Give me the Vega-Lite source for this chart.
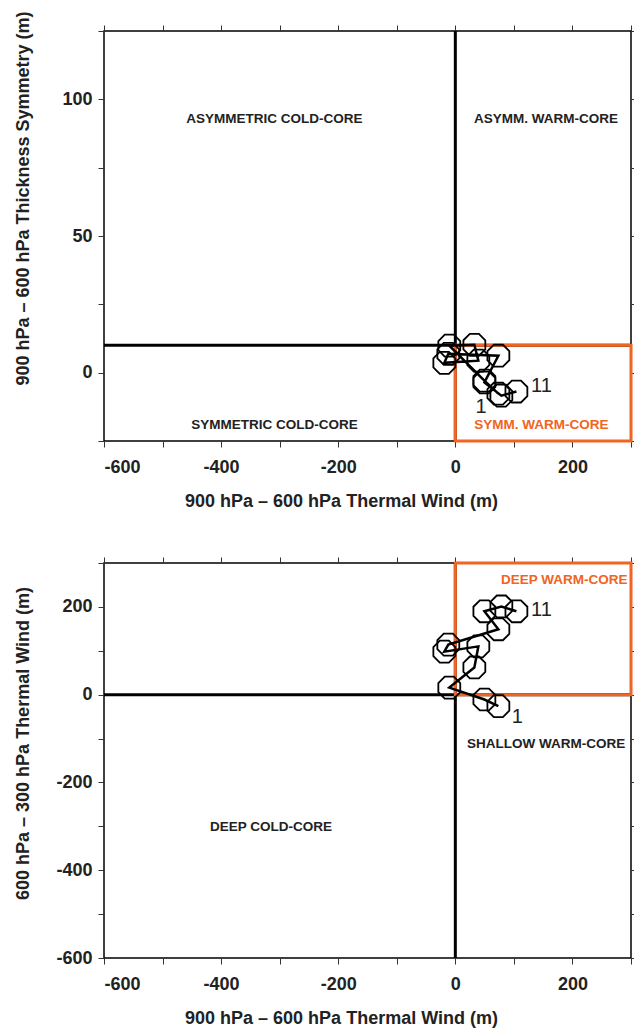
{
  "$schema": "https://vega.github.io/schema/vega-lite/v6.json",
  "padding": {"left": 13, "top": 10, "right": 0, "bottom": 3},
  "config": {
    "font": "Liberation Sans",
    "view": {"stroke": "#000", "strokeWidth": 1.5},
    "axis": {"domain": false, "grid": false, "tickColor": "#333", "tickSize": 6, "tickWidth": 1,
      "labelFont": "Liberation Sans", "labelFontWeight": "bold", "labelFontSize": 18, "labelColor": "#222",
      "titleFont": "Liberation Sans", "titleFontWeight": "bold", "titleFontSize": 18, "titleColor": "#222", "labelPadding": 6},
    "axisBottom": {"labelPadding": 11, "titlePadding": 16},
    "axisRight": {"tickSize": 3}
  },
  "datasets": {
    "track": [
      {"i": 1, "tw_lower": 73.5, "b": -7.7, "tw_upper": -26},
      {"i": 2, "tw_lower": 49.6, "b": -2.9, "tw_upper": -11},
      {"i": 3, "tw_lower": -10.3, "b": 9.9, "tw_upper": 16},
      {"i": 4, "tw_lower": 32.5, "b": 10.2, "tw_upper": 62},
      {"i": 5, "tw_lower": 39.3, "b": 4.4, "tw_upper": 110},
      {"i": 6, "tw_lower": -18.8, "b": 3.6, "tw_upper": 98},
      {"i": 7, "tw_lower": -12, "b": 6.9, "tw_upper": 114},
      {"i": 8, "tw_lower": 73.5, "b": 6.2, "tw_upper": 149},
      {"i": 9, "tw_lower": 49.6, "b": -3.6, "tw_upper": 190},
      {"i": 10, "tw_lower": 78.6, "b": -8.4, "tw_upper": 201},
      {"i": 11, "tw_lower": 104.3, "b": -6.9, "tw_upper": 190}
    ]
  },
  "spacing": 44,
  "vconcat": [
    {
      "width": 527, "height": 410,
      "resolve": {"axis": {"x": "independent", "y": "independent"}},
      "layer": [
        {
          "data": {"values": [{}]},
          "mark": {"type": "rule", "strokeWidth": 3, "color": "#000"},
          "encoding": {
            "x": {"datum": -600, "type": "quantitative", "scale": {"domain": [-600, 300], "nice": false, "zero": false},
              "axis": {"orient": "bottom", "values": [-600, -500, -400, -300, -200, -100, 0, 100, 200, 300],
                "labelExpr": "datum.value % 200 == 0 ? '' + datum.value : ''", "title": "900 hPa – 600 hPa Thermal Wind (m)",
                "titleX": 237}},
            "x2": {"datum": 300},
            "y": {"datum": 10, "type": "quantitative", "scale": {"domain": [-25, 125], "nice": false, "zero": false},
              "axis": {"orient": "left", "values": [-25, 0, 25, 50, 75, 100, 125],
                "labelExpr": "datum.value % 50 == 0 ? '' + datum.value : ''", "title": "900 hPa – 600 hPa Thickness Symmetry (m)",
                "titleX": -81, "titleY": 167, "titleBaseline": "middle", "titleAngle": 270}}
          }
        },
        {
          "data": {"values": [{}]},
          "mark": {"type": "rule", "strokeWidth": 3, "color": "#000"},
          "encoding": {
            "x": {"datum": 0, "type": "quantitative",
              "axis": {"orient": "top", "values": [-600, -500, -400, -300, -200, -100, 0, 100, 200, 300], "labels": false, "title": null}},
            "y": {"datum": -25, "type": "quantitative",
              "axis": {"orient": "right", "values": [-25, 0, 25, 50, 75, 100, 125], "labels": false, "title": null}},
            "y2": {"datum": 125}
          }
        },
        {
          "data": {"values": [{}]},
          "mark": {"type": "rect", "fillOpacity": 0, "stroke": "#f06424", "strokeWidth": 3},
          "encoding": {
            "x": {"datum": 0, "type": "quantitative", "axis": null},
            "x2": {"datum": 300},
            "y": {"datum": -25, "type": "quantitative", "axis": null},
            "y2": {"datum": 10}
          }
        },
        {
          "data": {"name": "track"},
          "mark": {"type": "line", "color": "#000", "strokeWidth": 2.5},
          "encoding": {
            "x": {"field": "tw_lower", "type": "quantitative", "axis": null},
            "y": {"field": "b", "type": "quantitative", "axis": null},
            "order": {"field": "i"}
          }
        },
        {
          "data": {"name": "track"},
          "mark": {"type": "point", "shape": "M -1 -0.414 L -0.414 -1 L 0.414 -1 L 1 -0.414 L 1 0.414 L 0.414 1 L -0.414 1 L -1 0.414 Z",
            "size": 480, "filled": false, "stroke": "#000", "strokeWidth": 1.8, "opacity": 1},
          "encoding": {
            "x": {"field": "tw_lower", "type": "quantitative", "axis": null},
            "y": {"field": "b", "type": "quantitative", "axis": null}
          }
        },
        {
          "data": {"values": [
            {"label": "ASYMMETRIC COLD-CORE", "x": -309, "y": 92.7},
            {"label": "ASYMM. WARM-CORE", "x": 155, "y": 92.7},
            {"label": "SYMMETRIC COLD-CORE", "x": -309, "y": -19.3}
          ]},
          "mark": {"type": "text", "font": "Liberation Sans", "fontWeight": "bold", "fontSize": 13.5, "color": "#222"},
          "encoding": {
            "x": {"field": "x", "type": "quantitative", "axis": null},
            "y": {"field": "y", "type": "quantitative", "axis": null},
            "text": {"field": "label"}
          }
        },
        {
          "data": {"values": [{"label": "SYMM. WARM-CORE", "x": 147, "y": -19.3}]},
          "mark": {"type": "text", "font": "Liberation Sans", "fontWeight": "bold", "fontSize": 13.5, "color": "#f06424"},
          "encoding": {
            "x": {"field": "x", "type": "quantitative", "axis": null},
            "y": {"field": "y", "type": "quantitative", "axis": null},
            "text": {"field": "label"}
          }
        },
        {
          "data": {"values": [{"label": "11", "x": 147, "y": -4.7}, {"label": "1", "x": 44, "y": -12.6}]},
          "mark": {"type": "text", "font": "Liberation Sans", "fontSize": 20, "color": "#222"},
          "encoding": {
            "x": {"field": "x", "type": "quantitative", "axis": null},
            "y": {"field": "y", "type": "quantitative", "axis": null},
            "text": {"field": "label"}
          }
        }
      ]
    },
    {
      "width": 527, "height": 395,
      "resolve": {"axis": {"x": "independent", "y": "independent"}},
      "layer": [
        {
          "data": {"values": [{}]},
          "mark": {"type": "rule", "strokeWidth": 3, "color": "#000"},
          "encoding": {
            "x": {"datum": -600, "type": "quantitative", "scale": {"domain": [-600, 300], "nice": false, "zero": false},
              "axis": {"orient": "bottom", "values": [-600, -500, -400, -300, -200, -100, 0, 100, 200, 300],
                "labelExpr": "datum.value % 200 == 0 ? '' + datum.value : ''", "title": "900 hPa – 600 hPa Thermal Wind (m)",
                "titleX": 237}},
            "x2": {"datum": 300},
            "y": {"datum": 0, "type": "quantitative", "scale": {"domain": [-600, 300], "nice": false, "zero": false},
              "axis": {"orient": "left", "values": [-600, -500, -400, -300, -200, -100, 0, 100, 200, 300],
                "labelExpr": "datum.value % 200 == 0 ? '' + datum.value : ''", "title": "600 hPa – 300 hPa Thermal Wind (m)",
                "titleX": -81, "titleY": 180, "titleBaseline": "middle", "titleAngle": 270}}
          }
        },
        {
          "data": {"values": [{}]},
          "mark": {"type": "rule", "strokeWidth": 3, "color": "#000"},
          "encoding": {
            "x": {"datum": 0, "type": "quantitative",
              "axis": {"orient": "top", "values": [-600, -500, -400, -300, -200, -100, 0, 100, 200, 300], "labels": false, "title": null}},
            "y": {"datum": -600, "type": "quantitative",
              "axis": {"orient": "right", "values": [-600, -500, -400, -300, -200, -100, 0, 100, 200, 300], "labels": false, "title": null}},
            "y2": {"datum": 300}
          }
        },
        {
          "data": {"values": [{}]},
          "mark": {"type": "rect", "fillOpacity": 0, "stroke": "#f06424", "strokeWidth": 3},
          "encoding": {
            "x": {"datum": 0, "type": "quantitative", "axis": null},
            "x2": {"datum": 300},
            "y": {"datum": 0, "type": "quantitative", "axis": null},
            "y2": {"datum": 300}
          }
        },
        {
          "data": {"name": "track"},
          "mark": {"type": "line", "color": "#000", "strokeWidth": 2.5},
          "encoding": {
            "x": {"field": "tw_lower", "type": "quantitative", "axis": null},
            "y": {"field": "tw_upper", "type": "quantitative", "axis": null},
            "order": {"field": "i"}
          }
        },
        {
          "data": {"name": "track"},
          "mark": {"type": "point", "shape": "M -1 -0.414 L -0.414 -1 L 0.414 -1 L 1 -0.414 L 1 0.414 L 0.414 1 L -0.414 1 L -1 0.414 Z",
            "size": 480, "filled": false, "stroke": "#000", "strokeWidth": 1.8, "opacity": 1},
          "encoding": {
            "x": {"field": "tw_lower", "type": "quantitative", "axis": null},
            "y": {"field": "tw_upper", "type": "quantitative", "axis": null}
          }
        },
        {
          "data": {"values": [
            {"label": "SHALLOW WARM-CORE", "x": 155, "y": -112},
            {"label": "DEEP COLD-CORE", "x": -315, "y": -302}
          ]},
          "mark": {"type": "text", "font": "Liberation Sans", "fontWeight": "bold", "fontSize": 13.5, "color": "#222"},
          "encoding": {
            "x": {"field": "x", "type": "quantitative", "axis": null},
            "y": {"field": "y", "type": "quantitative", "axis": null},
            "text": {"field": "label"}
          }
        },
        {
          "data": {"values": [{"label": "DEEP WARM-CORE", "x": 186, "y": 260.6}]},
          "mark": {"type": "text", "font": "Liberation Sans", "fontWeight": "bold", "fontSize": 13.5, "color": "#f06424"},
          "encoding": {
            "x": {"field": "x", "type": "quantitative", "axis": null},
            "y": {"field": "y", "type": "quantitative", "axis": null},
            "text": {"field": "label"}
          }
        },
        {
          "data": {"values": [{"label": "11", "x": 147, "y": 192}, {"label": "1", "x": 106, "y": -50}]},
          "mark": {"type": "text", "font": "Liberation Sans", "fontSize": 20, "color": "#222"},
          "encoding": {
            "x": {"field": "x", "type": "quantitative", "axis": null},
            "y": {"field": "y", "type": "quantitative", "axis": null},
            "text": {"field": "label"}
          }
        }
      ]
    }
  ]
}
